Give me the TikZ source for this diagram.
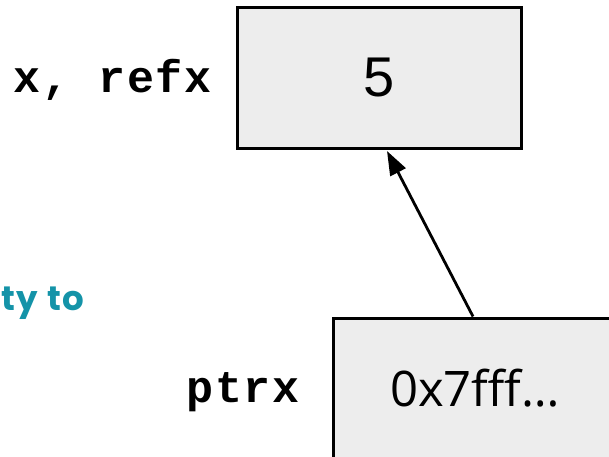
\documentclass[tikz,border=0pt]{standalone}
\usepackage{fontspec}
\setmainfont{Liberation Sans}
\newfontfamily\monob[LetterSpace=4]{Liberation Mono}
\newfontfamily\hexfont{Open Sans}
\newfontfamily\teafont[LetterSpace=5]{Poppins}
\definecolor{boxfill}{HTML}{EDEDED}
\definecolor{tealtxt}{HTML}{1493A8}
\usetikzlibrary{arrows.meta,calc}
\tikzset{
  membox/.style={draw=black, fill=boxfill, line width=3pt, minimum width=284pt, minimum height=140pt, inner sep=0pt},
  varlabel/.style={font=\monob\bfseries\fontsize{45}{48}\selectfont, anchor=base east, inner sep=0pt},
  link/.style={line width=2.8pt, -{Triangle[length=24pt,width=17pt]}}
}
\begin{document}
\begin{tikzpicture}[x=1pt,y=1pt]
\useasboundingbox (0,0) rectangle (609,456);
\begin{scope}
\clip (0,0) rectangle (609,456);
\node[membox] (b1) at (379,378) {\fontsize{56}{60}\selectfont 5};
\node[membox] (b2) at (475,68) {\hexfont\fontsize{49}{54}\selectfont 0x7fff\ldots};
\node[varlabel] (l1) at (212,363) {x, refx};
\node[varlabel] (l2) at (300,54) {ptrx};
\node[anchor=base west, inner sep=0pt, text=tealtxt, font=\teafont\bfseries\fontsize{34}{38}\selectfont] (t1) at (1,146) {ty to};
\coordinate (a1) at ($(b2.north)+(-2,0)$);
\coordinate (a2) at ($(b1.south)+(8,-1.5)$);
\draw[link] (a1) -- (a2);
\end{scope}
\end{tikzpicture}
\end{document}
